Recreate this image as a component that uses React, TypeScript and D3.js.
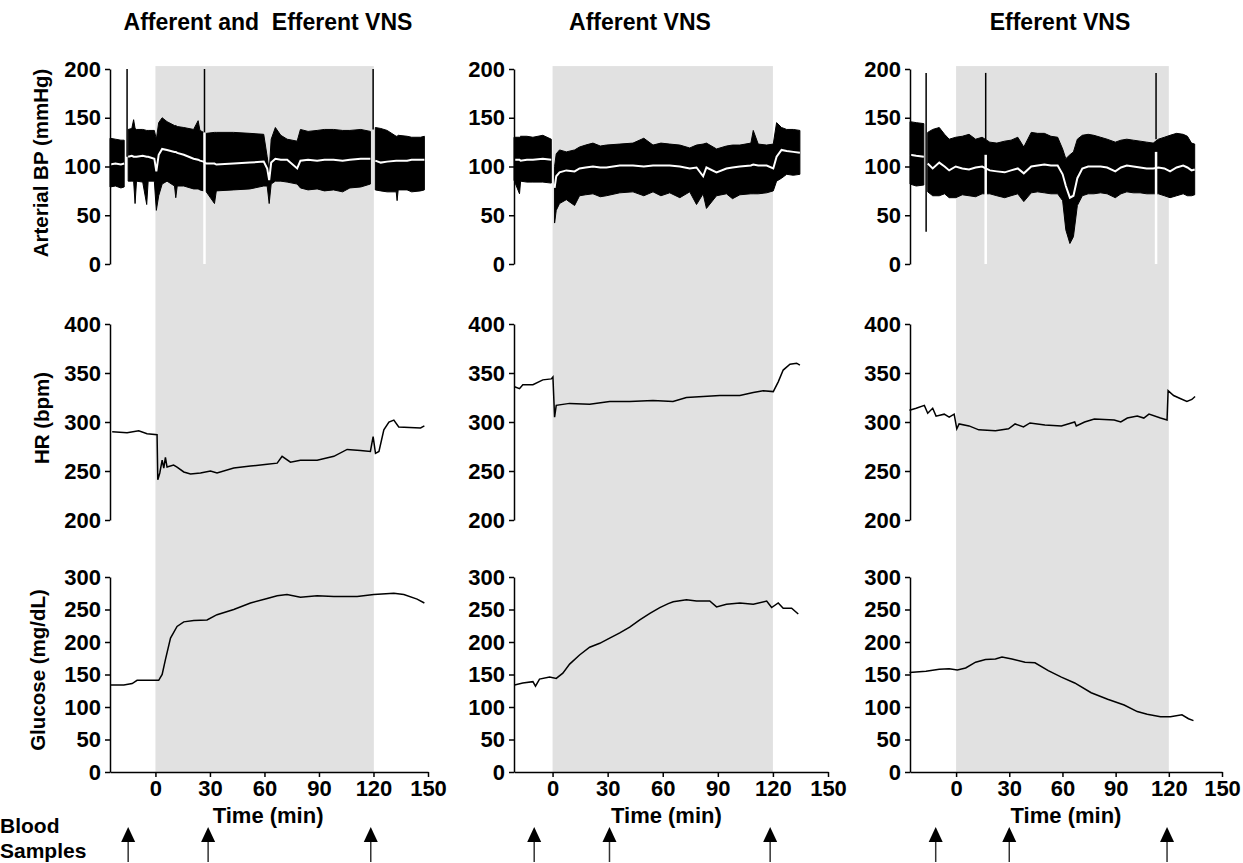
import * as d3 from 'd3';
import { useEffect, useRef } from 'react';

// panel titles and axis ticks
const panelTitles = ['Afferent and  Efferent VNS', 'Afferent VNS', 'Efferent VNS'];
const xTicks = [0, 30, 60, 90, 120, 150];
const bpTicks = [0, 50, 100, 150, 200];
const hrTicks = [200, 250, 300, 350, 400];
const gluTicks = [0, 50, 100, 150, 200, 250, 300];

// first minute shown on each time axis, and end of stimulation
const timeStart = [-25, -21, -26];
const stimEnd = [120.2, 120, 120];

// arterial BP: [min, pulse min, pulse max, mean]  (NaN = gap in recording)
const bpBoth: number[][] = [
  [-25, 79, 129, 102], [-22, 80, 128, 103], [-19, 78, 127, 102], [-17.2, 79, 127, 103],
  [-16.4, NaN, NaN, NaN],
  [-15, 85, 138, 110], [-13, 85, 139, 111], [-12, 85, 148, 110], [-11.2, 62, 139, 110],
  [-10.4, 85, 138, 110], [-7, 84, 138, 111], [-4.8, 61, 137, 110], [-4, 85, 137, 110],
  [-0.6, 85, 137, 108], [0.5, 55, 128, 95], [1.8, 70, 145, 112], [3.7, 82, 150, 118],
  [6.4, 85, 146, 117], [10.5, 80, 142, 115], [11.2, 68, 142, 115], [12, 80, 141, 114],
  [15.6, 80, 140, 112], [21, 77, 138, 108], [23.5, 77, 147, 107], [24.5, 76, 137, 106],
  [26.5, 75, 135, 105], [28, 74, 134, 103], [32.5, 62, 135, 103], [33.5, 75, 135, 102],
  [43, 76, 135, 103], [52, 77, 134, 104], [59.6, 80, 133, 105], [61.5, 80, 110, 98],
  [62.6, 62, 95, 86], [63.7, 82, 128, 104], [66, 85, 140, 108], [69, 85, 132, 107],
  [72.5, 84, 128, 107], [78, 82, 126, 98], [79.8, 78, 138, 106], [84, 76, 136, 107],
  [89, 77, 137, 106], [93, 75, 138, 107], [98, 76, 138, 107], [103, 74, 137, 106],
  [107, 78, 137, 107], [113, 79, 138, 108], [118.3, 82, 136, 108],
  [119.6, NaN, NaN, NaN],
  [121, 76, 140, 106], [124, 75, 139, 104], [127.5, 74, 137, 105], [132.5, 74, 131, 106],
  [133, 65, 131, 106], [133.6, 76, 132, 106], [138.5, 76, 131, 106], [141, 74, 130, 107],
  [145.9, 75, 130, 107], [148, 76, 131, 107],
];
const bpAff: number[][] = [
  [-21, 86, 130, 107], [-18, 72, 130, 107], [-17.4, 85, 131, 106], [-14, 84, 131, 107],
  [-10.7, 84, 130, 107], [-5.3, 84, 132, 108], [-0.7, 83, 128, 107],
  [0.2, NaN, NaN, NaN],
  [1.1, 42, 100, 78], [2, 55, 113, 90], [3.8, 62, 117, 94], [7.5, 66, 115, 96],
  [12, 60, 117, 95], [14.7, 70, 120, 98], [18, 71, 122, 99], [22, 72, 124, 100],
  [26, 69, 121, 99], [29.3, 70, 122, 99], [36.6, 73, 123, 101], [43.8, 74, 124, 101],
  [49.7, 70, 129, 100], [54.7, 74, 122, 101], [59, 70, 124, 101], [63.8, 73, 123, 101],
  [69.3, 68, 122, 100], [74.7, 74, 119, 98], [78.4, 61, 122, 99], [82, 72, 123, 90],
  [83.8, 57, 124, 99], [89.3, 70, 118, 94], [94.7, 72, 121, 98], [98, 67, 122, 99],
  [102, 71, 122, 100], [108, 72, 124, 101], [109.3, 72, 137, 102], [112, 72, 123, 101],
  [116.6, 73, 122, 101], [120.2, 75, 123, 98], [122, 85, 145, 110], [124.7, 88, 140, 117],
  [127.5, 92, 138, 116], [131.1, 91, 138, 115], [134.7, 92, 137, 114],
];
const bpEff: number[][] = [
  [-26, 82, 146, 112], [-22.5, 80, 145, 111], [-18.2, 81, 144, 110],
  [-17.4, NaN, NaN, NaN],
  [-16, 74, 135, 103], [-13.2, 70, 138, 98], [-9.5, 70, 140, 104], [-6.5, 72, 133, 100],
  [-3.9, 68, 128, 96], [-0.2, 68, 130, 100], [3.5, 71, 131, 98], [7.3, 70, 133, 97],
  [11, 69, 128, 99], [14.7, 72, 130, 100], [19, 72, 125, 96], [23, 70, 124, 95],
  [27.4, 68, 126, 94], [31, 70, 127, 96], [34.8, 72, 130, 98], [38.2, 64, 120, 93],
  [42.4, 73, 135, 100], [46, 74, 134, 101], [49.8, 73, 134, 102], [53.5, 72, 131, 101],
  [57.3, 72, 130, 101], [60.1, 65, 118, 92], [61.9, 35, 108, 80], [64.2, 21, 112, 68],
  [66.2, 28, 115, 70], [68.4, 60, 128, 88], [71.2, 70, 132, 98], [74.5, 72, 133, 100],
  [77.7, 72, 132, 100], [81.5, 73, 130, 100], [85.2, 72, 128, 99], [89.8, 68, 125, 95],
  [93, 72, 127, 99], [96.3, 74, 128, 101], [100, 73, 127, 100], [103.8, 73, 126, 99],
  [107.5, 72, 125, 98], [111.2, 72, 124, 98], [114.1, 72, 128, 99], [117.5, 70, 130, 98],
  [120.7, 68, 132, 95], [124.4, 70, 134, 99], [128.1, 72, 133, 101], [130.5, 70, 131, 99],
  [132.8, 70, 124, 96], [134.6, 71, 123, 97],
];

// line flushes: [min, black from, black to, white from 0 up to]
const flushBoth = [[-15.6, 110, 200, 0], [27, 135, 200, 135], [119.8, 138, 200, 0]];
const flushAff: number[][] = [];
const flushEff = [[-16.9, 33, 196, 0], [16.7, 127, 196, 112], [112.8, 128, 196, 115]];

// heart rate: [min, bpm]
const hrBoth = [
  [-23.8, 290], [-15.6, 289], [-9.2, 291], [-4.6, 288], [0.9, 287], [1.3, 241], [2.4, 248],
  [3.7, 261], [4.6, 253], [5.5, 264], [6.4, 254], [10, 256], [11.9, 254], [15.6, 249],
  [19.3, 247], [24.8, 248], [30.3, 250], [33.9, 248], [43.1, 253], [52.3, 255], [61.5, 257],
  [67, 258], [69.7, 265], [74.3, 259], [79.8, 261], [89, 261], [98.2, 265], [105.5, 272],
  [112.8, 271], [118.3, 270], [119.8, 285], [121.1, 268], [123, 270], [125.7, 292],
  [128.5, 300], [131.2, 302], [133.9, 295], [145.9, 294], [148, 296],
];
const hrAff = [
  [-20.7, 336], [-18, 334], [-16.2, 338], [-10.7, 338], [-5.3, 343], [-0.7, 344], [0.2, 346],
  [1.1, 305], [2, 317], [9.3, 319], [20.2, 318], [31.1, 321], [42, 321], [54.7, 322],
  [65.6, 321], [72.9, 325], [82, 326], [91.1, 327], [102, 327], [109.3, 330], [114.7, 332],
  [120.2, 331], [122.9, 341], [125.6, 353], [129.3, 359], [132.9, 360], [134.7, 358],
];
const hrEff = [
  [-26.3, 312], [-22.5, 314], [-17.9, 317], [-16, 309], [-13.2, 314], [-11.3, 306],
  [-6.7, 308], [-3.9, 305], [-1.1, 308], [0.4, 293], [1.7, 298], [7.3, 296], [12.8, 292],
  [22.2, 291], [29.6, 293], [33.3, 298], [38, 295], [41.7, 299], [50.1, 297], [59.4, 296],
  [66.9, 300], [67.8, 296], [72.5, 300], [78, 303], [89.2, 302], [92.9, 300], [96.6, 304],
  [102.2, 306], [105.9, 304], [108.8, 308], [115.3, 304], [119, 302], [119.6, 332],
  [122.7, 327], [126.4, 324], [130.2, 321], [133, 323], [134.8, 326],
];

// glucose: [min, mg/dL]
const gluBoth = [
  [-24.8, 134], [-17.4, 134], [-12.8, 136], [-10.1, 141], [-4.6, 141], [1.8, 141], [3.7, 150],
  [5.5, 173], [8.3, 206], [11.9, 224], [15.6, 231], [21.1, 233], [28.4, 234], [33.9, 242],
  [43.1, 250], [52.3, 260], [61.5, 267], [67, 271], [72.4, 273], [79.8, 269], [89, 271],
  [98.2, 270], [111, 270], [120.2, 273], [131.2, 275], [136.7, 273], [144, 266], [148, 260],
];
const gluAff = [
  [-20.7, 134], [-16.2, 137], [-10.7, 139], [-9.3, 132], [-7.1, 143], [-1.6, 146], [2, 144],
  [5.6, 152], [9.3, 166], [14.7, 180], [20.2, 192], [25.7, 198], [31.1, 206], [36.6, 214],
  [42, 223], [47.5, 234], [53, 244], [58.4, 253], [63, 259], [65.7, 262], [72.9, 265],
  [78.4, 263], [85.6, 263], [89.3, 254], [94.7, 258], [102, 260], [109.3, 258], [116.6, 263],
  [119.3, 253], [122.9, 260], [125.6, 252], [130.2, 252], [133.8, 243],
];
const gluEff = [
  [-26.3, 153], [-17, 155], [-9.5, 158], [-3.9, 159], [0.7, 157], [5.4, 160], [11, 169],
  [16.6, 173], [22.2, 174], [25.9, 177], [31.5, 174], [38.9, 169], [44.5, 168], [52, 156],
  [59.4, 146], [66.9, 137], [76.2, 122], [85.5, 112], [94.8, 103], [102.2, 93], [107.8, 89],
  [115.3, 85], [120.9, 85], [127.4, 88], [131.1, 82], [133.9, 79],
];

// blood sampling times (min)
const samplesBoth = [-15, 29, 118.5];
const samplesAff = [-10, 31, 118.5];
const samplesEff = [-11.5, 30, 119];

const App = () => {
  const ref = useRef<SVGSVGElement>(null);

  useEffect(() => {
    const svg = d3.select(ref.current);
    svg.selectAll('*').remove();
    const font = "'Liberation Sans', Arial, Helvetica, sans-serif";

    const colRange = [[110, 428], [514, 828], [910, 1222]];
    const titleX = [268, 640, 1060];
    const bpData = [bpBoth, bpAff, bpEff];
    const flushData = [flushBoth, flushAff, flushEff];
    const hrData = [hrBoth, hrAff, hrEff];
    const gluData = [gluBoth, gluAff, gluEff];
    const sampleData = [samplesBoth, samplesAff, samplesEff];

    const yBp = d3.scaleLinear().domain([0, 200]).range([264, 69]);
    const yHr = d3.scaleLinear().domain([200, 400]).range([520, 324]);
    const yGlu = d3.scaleLinear().domain([0, 300]).range([772, 577]);

    const styleAxis = (g: any) => {
      g.attr('font-family', font).attr('font-size', 22).attr('font-weight', 'bold');
      g.select('.domain').attr('stroke', '#000').attr('stroke-width', 1.5);
      g.selectAll('.tick line').attr('stroke', '#000').attr('stroke-width', 1.5);
      g.selectAll('.tick text').attr('fill', '#000');
    };

    for (let i = 0; i < 3; i++) {
      const x = d3.scaleLinear().domain([timeStart[i], 150]).range(colRange[i]);
      const g = svg.append('g');

      // stimulation period
      g.append('rect')
        .attr('x', x(0))
        .attr('y', yBp(203))
        .attr('width', x(stimEnd[i]) - x(0))
        .attr('height', yGlu(0) - yBp(203))
        .attr('fill', '#e1e1e1');

      // BP pulse band
      const band = d3.area<number[]>()
        .defined(d => !isNaN(d[1]))
        .x(d => x(d[0]))
        .y0(d => yBp(d[1]))
        .y1(d => yBp(d[2]));
      g.append('path').datum(bpData[i]).attr('d', band)
        .attr('fill', '#000').attr('stroke', '#000').attr('stroke-width', 1);

      const mean = d3.line<number[]>()
        .defined(d => !isNaN(d[3]))
        .x(d => x(d[0]))
        .y(d => yBp(d[3]));
      g.append('path').datum(bpData[i]).attr('d', mean)
        .attr('fill', 'none').attr('stroke', '#fff').attr('stroke-width', 2);

      flushData[i].forEach(f => {
        g.append('line')
          .attr('x1', x(f[0])).attr('x2', x(f[0]))
          .attr('y1', yBp(f[1])).attr('y2', yBp(f[2]))
          .attr('stroke', '#000').attr('stroke-width', 1.5);
        if (f[3] > 0) {
          g.append('line')
            .attr('x1', x(f[0])).attr('x2', x(f[0]))
            .attr('y1', yBp(0)).attr('y2', yBp(f[3]))
            .attr('stroke', '#fff').attr('stroke-width', 2.5);
        }
      });

      // HR and glucose traces
      const hrLine = d3.line<number[]>().x(d => x(d[0])).y(d => yHr(d[1]));
      g.append('path').datum(hrData[i]).attr('d', hrLine)
        .attr('fill', 'none').attr('stroke', '#000').attr('stroke-width', 1.5);

      const gluLine = d3.line<number[]>().x(d => x(d[0])).y(d => yGlu(d[1]));
      g.append('path').datum(gluData[i]).attr('d', gluLine)
        .attr('fill', 'none').attr('stroke', '#000').attr('stroke-width', 1.5);

      // axes
      const x0 = colRange[i][0];
      g.append('g').attr('transform', `translate(${x0},0)`)
        .call(d3.axisLeft(yBp).tickValues(bpTicks).tickSize(5).tickSizeOuter(0).tickPadding(4))
        .call(styleAxis);
      g.append('g').attr('transform', `translate(${x0},0)`)
        .call(d3.axisLeft(yHr).tickValues(hrTicks).tickSize(5).tickSizeOuter(0).tickPadding(4))
        .call(styleAxis);
      g.append('g').attr('transform', `translate(${x0},0)`)
        .call(d3.axisLeft(yGlu).tickValues(gluTicks).tickSize(5).tickSizeOuter(0).tickPadding(4))
        .call(styleAxis);
      g.append('g').attr('transform', `translate(0,${yGlu(0)})`)
        .call(d3.axisBottom(x).tickValues(xTicks).tickSize(5).tickSizeOuter(0).tickPadding(3))
        .call(styleAxis);

      g.append('text')
        .attr('x', x(62)).attr('y', 823)
        .attr('text-anchor', 'middle')
        .attr('font-family', font).attr('font-size', 22).attr('font-weight', 'bold')
        .text('Time (min)');

      g.append('text')
        .attr('x', titleX[i]).attr('y', 30)
        .attr('text-anchor', 'middle')
        .attr('font-family', font).attr('font-size', 23).attr('font-weight', 'bold')
        .style('white-space', 'pre')
        .text(panelTitles[i]);

      // blood sampling arrows
      sampleData[i].forEach(t => {
        const ax = x(t);
        g.append('path')
          .attr('d', `M${ax},827L${ax - 7},842L${ax + 7},842Z`)
          .attr('fill', '#000');
        g.append('line')
          .attr('x1', ax).attr('x2', ax).attr('y1', 842).attr('y2', 862)
          .attr('stroke', '#333').attr('stroke-width', 1.5);
      });
    }

    // y axis titles
    const yTitles = [['Arterial BP (mmHg)', 40, 163], ['HR (bpm)', 41, 418], ['Glucose (mg/dL)', 37, 670]];
    yTitles.forEach(([label, lx, ly]) => {
      svg.append('text')
        .attr('transform', `translate(${lx},${ly}) rotate(-90)`)
        .attr('text-anchor', 'middle')
        .attr('dominant-baseline', 'central')
        .attr('font-family', font).attr('font-size', 20.5).attr('font-weight', 'bold')
        .text(label as string);
    });

    svg.append('text').attr('x', 0).attr('y', 833)
      .attr('font-family', font).attr('font-size', 21).attr('font-weight', 'bold')
      .text('Blood');
    svg.append('text').attr('x', 0).attr('y', 858)
      .attr('font-family', font).attr('font-size', 21).attr('font-weight', 'bold')
      .text('Samples');
  }, []);

  return (
    <svg
      ref={ref}
      width={1243}
      height={863}
      style={{ position: 'absolute', left: 0, top: 0, background: '#fff' }}
    />
  );
};

export default App;
